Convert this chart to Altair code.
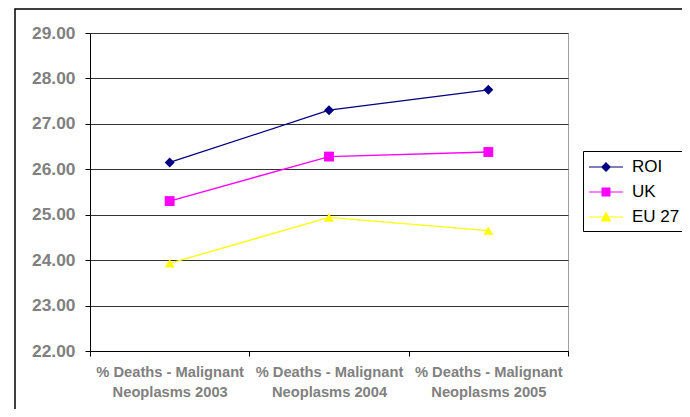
import altair as alt
import pandas as pd

categories = [
    "% Deaths - Malignant\nNeoplasms 2003",
    "% Deaths - Malignant\nNeoplasms 2004",
    "% Deaths - Malignant\nNeoplasms 2005",
]
series_names = ["ROI", "UK", "EU 27"]
roi = [26.15, 27.30, 27.75]
uk = [25.30, 26.28, 26.38]
eu27 = [23.93, 24.94, 24.65]
y_ticks = [22, 23, 24, 25, 26, 27, 28, 29]
colors = ["#000080", "#FF00FF", "#FFFF00"]
point_shapes = ["diamond", "square", "triangle-up"]
point_sizes = [100, 95, 135]
legend_paths = [
    "M-1,-0.06H2.4V0.06H-1Z M0.7,-0.5L1.2,0L0.7,0.5L0.2,0Z",
    "M-1,-0.06H2.4V0.06H-1Z M0.25,-0.45H1.15V0.45H0.25Z",
    "M-1,-0.06H2.4V0.06H-1Z M0.7,-0.55L1.25,0.45H0.15Z",
]

rows = []
for name, vals in zip(series_names, [roi, uk, eu27]):
    for c, v in zip(categories, vals):
        rows.append({"category": c, "series": name, "value": v})
df = pd.DataFrame(rows)

FONT = "Liberation Sans"

x_enc = alt.X(
    "category:N",
    sort=categories,
    scale=alt.Scale(paddingInner=0, paddingOuter=0),
    axis=alt.Axis(
        title=None, labelAngle=0, labelExpr="split(datum.label, '\\n')",
        tickBand="extent", tickSize=5, tickColor="#000000", domainColor="#000000",
        labelColor="#808080", labelFont=FONT, labelFontSize=14.7, labelFontWeight="bold",
        labelLineHeight=20, labelPadding=8, grid=False, labelBaseline="top",
    ),
)
y_enc = alt.Y(
    "value:Q",
    scale=alt.Scale(domain=[22, 29], nice=False, zero=False),
    axis=alt.Axis(
        title=None, values=y_ticks, format=".2f", grid=True, gridColor="#333333",
        gridWidth=1, tickSize=5, tickColor="#000000", domainColor="#000000",
        labelColor="#808080", labelFont=FONT, labelFontSize=17.4, labelFontWeight="bold",
        labelPadding=10,
    ),
)
color_scale = alt.Scale(domain=series_names, range=colors)

leg = alt.Legend(
    title=None, orient="none", legendX=493, legendY=118, fillColor="white",
    strokeColor="black", padding=6, symbolSize=400, symbolStrokeWidth=0,
    symbolOpacity=1, labelOffset=23, labelFontSize=17, labelFont=FONT,
    labelColor="black", rowPadding=7, cornerRadius=0,
)

frame = alt.Chart(pd.DataFrame({"a": [0]})).mark_rect(
    filled=False, stroke="black", strokeWidth=1.5
).encode(
    x=alt.value(-75), x2=alt.value(900), y=alt.value(-24), y2=alt.value(900)
)

base = alt.Chart(df)
lines = base.mark_line(strokeWidth=1.3).encode(
    x=x_enc, y=y_enc, color=alt.Color("series:N", scale=color_scale, legend=None)
)
points = base.mark_point(filled=True, opacity=1, strokeWidth=0).encode(
    x=x_enc, y=y_enc,
    color=alt.Color("series:N", scale=color_scale, legend=None),
    shape=alt.Shape("series:N", scale=alt.Scale(domain=series_names, range=point_shapes), legend=None),
    size=alt.Size("series:N", scale=alt.Scale(domain=series_names, range=point_sizes), legend=None),
)
legend_layer = base.mark_point(filled=True, opacity=0, size=400, strokeWidth=0).encode(
    x=x_enc, y=y_enc,
    color=alt.Color("series:N", scale=color_scale, legend=leg),
    shape=alt.Shape("series:N", scale=alt.Scale(domain=series_names, range=legend_paths), legend=leg),
)

chart = alt.layer(frame, lines, points, legend_layer).resolve_scale(
    color="independent", shape="independent", size="independent"
).properties(
    width=478, height=318,
    padding={"left": 82, "top": 25, "right": 114, "bottom": 58},
    autosize=alt.AutoSizeParams(type="none"),
    background="white",
).configure_view(stroke="#a0a0a0", strokeWidth=1)

chart.save("out.html", embed_options={"renderer": "svg", "actions": False})
